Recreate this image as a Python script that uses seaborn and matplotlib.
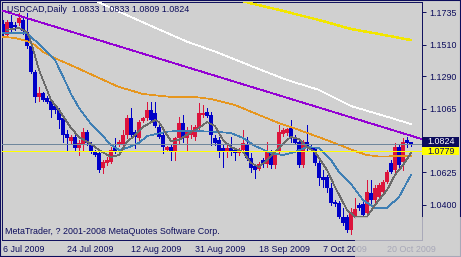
import numpy as np
import pandas as pd
import matplotlib
matplotlib.use("Agg")
import matplotlib.pyplot as plt
import matplotlib.transforms as mtransforms
from matplotlib.patches import Rectangle
import seaborn as sns

# ---------------- data ----------------
symbol_title = "USDCAD,Daily  1.0833 1.0833 1.0809 1.0824"
footer_text = "MetaTrader, ? 2001-2008 MetaQuotes Software Corp."

date_labels = ["6 Jul 2009", "24 Jul 2009", "12 Aug 2009", "31 Aug 2009",
               "18 Sep 2009", "7 Oct 2009", "20 Oct 2009"]
date_label_bars = [0, 16, 32, 48, 64, 80, 96]

price_ticks = [1.1735, 1.1510, 1.1290, 1.1065, 1.0625, 1.0400]

opens = [1.1653, 1.1577, 1.1667, 1.1647, 1.1660, 1.1681, 1.1598, 1.1501, 1.1320, 1.1147,
         1.1175, 1.1140, 1.1119, 1.1084, 1.1057, 1.1001, 1.0890, 1.0842, 1.0869, 1.0793,
         1.0814, 1.0904, 1.0814, 1.0765, 1.0758, 1.0654, 1.0689, 1.0696, 1.0793, 1.0814,
         1.0814, 1.0883, 1.1001, 1.0904, 1.0862, 1.0980, 1.1001, 1.1057, 1.1036, 1.0939,
         1.0883, 1.0779, 1.0800, 1.0772, 1.0862, 1.0966, 1.0862, 1.0883, 1.0869, 1.0932,
         1.1022, 1.1043, 1.1022, 1.0862, 1.0848, 1.0793, 1.0765, 1.0793, 1.0779, 1.0758,
         1.0779, 1.0814, 1.0724, 1.0668, 1.0647, 1.0710, 1.0682, 1.0765, 1.0675, 1.0765,
         1.0890, 1.0897, 1.0932, 1.0862, 1.0835, 1.0675, 1.0835, 1.0800, 1.0793, 1.0689,
         1.0592, 1.0592, 1.0515, 1.0418, 1.0411, 1.0314, 1.0314, 1.0224, 1.0321, 1.0397,
         1.0404, 1.0342, 1.0481, 1.0432, 1.0453, 1.0488, 1.0557, 1.0689, 1.0640, 1.0800,
         1.0696, 1.0848, 1.0833]
highs = [1.1681, 1.1681, 1.1716, 1.1667, 1.1730, 1.1695, 1.1730, 1.1515, 1.1334, 1.1216,
         1.1182, 1.1154, 1.1126, 1.1098, 1.1071, 1.1015, 1.0918, 1.0883, 1.0883, 1.0848,
         1.0932, 1.0918, 1.0835, 1.0779, 1.0779, 1.0710, 1.0730, 1.0800, 1.0862, 1.0848,
         1.0918, 1.1022, 1.1071, 1.0918, 1.0987, 1.1008, 1.1112, 1.1112, 1.1112, 1.0973,
         1.0918, 1.0807, 1.0821, 1.0869, 1.1008, 1.1022, 1.0939, 1.0953, 1.0953, 1.1105,
         1.1091, 1.1071, 1.1043, 1.0883, 1.0869, 1.0814, 1.0828, 1.0869, 1.0793, 1.0793,
         1.0918, 1.0869, 1.0758, 1.0675, 1.0696, 1.0724, 1.0835, 1.0779, 1.0779, 1.0953,
         1.0932, 1.0932, 1.0987, 1.0883, 1.0848, 1.0848, 1.0953, 1.0814, 1.0800, 1.0710,
         1.0640, 1.0606, 1.0550, 1.0432, 1.0425, 1.0377, 1.0328, 1.0377, 1.0446, 1.0411,
         1.0418, 1.0571, 1.0571, 1.0536, 1.0550, 1.0571, 1.0640, 1.0710, 1.0828, 1.0814,
         1.0862, 1.0869, 1.0833]
lows = [1.1570, 1.1563, 1.1598, 1.1612, 1.1647, 1.1584, 1.1487, 1.1313, 1.1112, 1.1119,
        1.1119, 1.1105, 1.1008, 1.1036, 1.0932, 1.0835, 1.0779, 1.0828, 1.0779, 1.0744,
        1.0779, 1.0814, 1.0758, 1.0737, 1.0626, 1.0619, 1.0675, 1.0689, 1.0758, 1.0807,
        1.0800, 1.0862, 1.0869, 1.0793, 1.0848, 1.0973, 1.0987, 1.0973, 1.0939, 1.0862,
        1.0758, 1.0772, 1.0710, 1.0710, 1.0828, 1.0835, 1.0779, 1.0862, 1.0848, 1.0918,
        1.1008, 1.1008, 1.0814, 1.0814, 1.0730, 1.0661, 1.0730, 1.0744, 1.0710, 1.0744,
        1.0765, 1.0710, 1.0626, 1.0585, 1.0640, 1.0661, 1.0661, 1.0654, 1.0654, 1.0758,
        1.0876, 1.0883, 1.0835, 1.0821, 1.0661, 1.0661, 1.0779, 1.0779, 1.0675, 1.0536,
        1.0522, 1.0488, 1.0397, 1.0390, 1.0307, 1.0259, 1.0210, 1.0196, 1.0307, 1.0363,
        1.0314, 1.0328, 1.0411, 1.0418, 1.0439, 1.0481, 1.0550, 1.0619, 1.0626, 1.0661,
        1.0640, 1.0800, 1.0809]
closes = [1.1591, 1.1667, 1.1626, 1.1633, 1.1695, 1.1605, 1.1501, 1.1320, 1.1147, 1.1175,
          1.1126, 1.1112, 1.1057, 1.1057, 1.0987, 1.0883, 1.0862, 1.0869, 1.0793, 1.0828,
          1.0904, 1.0828, 1.0765, 1.0744, 1.0640, 1.0696, 1.0710, 1.0779, 1.0765, 1.0835,
          1.0883, 1.1001, 1.0883, 1.0869, 1.0973, 1.1001, 1.1057, 1.0987, 1.0946, 1.0869,
          1.0800, 1.0800, 1.0772, 1.0862, 1.0966, 1.0862, 1.0904, 1.0918, 1.0939, 1.1036,
          1.1036, 1.1015, 1.0883, 1.0828, 1.0765, 1.0765, 1.0793, 1.0765, 1.0758, 1.0779,
          1.0828, 1.0724, 1.0654, 1.0640, 1.0682, 1.0682, 1.0765, 1.0675, 1.0744, 1.0904,
          1.0918, 1.0925, 1.0862, 1.0828, 1.0675, 1.0835, 1.0793, 1.0786, 1.0689, 1.0585,
          1.0571, 1.0515, 1.0411, 1.0404, 1.0314, 1.0272, 1.0224, 1.0349, 1.0370, 1.0377,
          1.0328, 1.0488, 1.0432, 1.0515, 1.0536, 1.0557, 1.0626, 1.0626, 1.0800, 1.0675,
          1.0835, 1.0828, 1.0824]

# indicator lines (bar index, price)
white_bars = [20, 29, 37, 46, 54, 62, 71, 79, 87, 96, 102]
white_vals = [1.1855, 1.1739, 1.1640, 1.1531, 1.1452, 1.1362, 1.1265, 1.1196, 1.1084, 1.1010, 1.0959]

yellow_bars = [57, 62, 69, 79, 87, 94, 102]
yellow_vals = [1.1834, 1.1797, 1.1751, 1.1681, 1.1619, 1.1584, 1.1542]

orange_bars = [0, 3, 6, 8, 10, 14, 18, 24, 29, 35, 42, 48, 52, 58, 64, 69, 74, 82, 88, 91, 94, 102]
orange_vals = [1.1565, 1.1556, 1.1535, 1.1508, 1.1459, 1.1404, 1.1355, 1.1279, 1.1216, 1.1168,
               1.1147, 1.1147, 1.1133, 1.1091, 1.1022, 1.0966, 1.0918, 1.0837, 1.0772, 1.0744,
               1.0734, 1.0737]

steel_bars = [0, 4, 6, 7, 9, 11, 13, 16, 17, 19, 22, 24, 27, 29, 31, 34, 36, 41, 45, 53, 57,
              60, 63, 67, 70, 73, 76, 79, 82, 84, 87, 90, 93, 96, 99, 102]
steel_vals = [1.1591, 1.1591, 1.1588, 1.1563, 1.1515, 1.1459, 1.1404, 1.1230, 1.1168, 1.1071,
              1.0959, 1.0904, 1.0814, 1.0779, 1.0793, 1.0828, 1.0876, 1.0906, 1.0913, 1.0906,
              1.0897, 1.0862, 1.0807, 1.0758, 1.0744, 1.0765, 1.0800, 1.0793, 1.0710, 1.0626,
              1.0543, 1.0432, 1.0377, 1.0377, 1.0453, 1.0606]

gray_bars = [1, 4, 6, 7, 9, 12, 14, 17, 19, 22, 24, 27, 29, 31, 33, 35, 38, 39, 41, 42, 44, 47,
             49, 51, 53, 55, 57, 60, 62, 64, 66, 68, 71, 72, 74, 76, 78, 81, 83, 86, 88, 91, 93,
             96, 98, 100, 102]
gray_vals = [1.1612, 1.1626, 1.1598, 1.1529, 1.1334, 1.1126, 1.1057, 1.0932, 1.0869, 1.0821,
             1.0779, 1.0730, 1.0744, 1.0835, 1.0883, 1.0939, 1.0987, 1.0973, 1.0883, 1.0842,
             1.0848, 1.0904, 1.0932, 1.0973, 1.0946, 1.0848, 1.0800, 1.0765, 1.0689, 1.0661,
             1.0710, 1.0765, 1.0848, 1.0869, 1.0855, 1.0800, 1.0765, 1.0640, 1.0522, 1.0363,
             1.0316, 1.0316, 1.0397, 1.0501, 1.0606, 1.0675, 1.0758]

trend_bars = [0, 102]
trend_vals = [1.1745, 1.0878]

bid_price = 1.0824
bid_label = "1.0824"
hline_price = 1.0775
hline_label = "1.0779"

# ---------------- style ----------------
sns.set_style("white")
plt.rcParams['font.family'] = ['Liberation Sans', 'DejaVu Sans']

BG = '#d0d0d0'
NAVY = '#0c0c5c'
RED = '#dc143c'
BLUE = '#0000c8'
FS = 6.4
THIN = 0.5

W, H = 461, 257
fig = plt.figure(figsize=(W / 100, H / 100), dpi=100, facecolor=BG)
ax = fig.add_axes([2 / W, 1 - 239.5 / H, 420 / W, 237.5 / H])
ax.set_facecolor(BG)

ymin, ymax = 1.01579, 1.18061
ax.set_xlim(-0.25, 104.75)
ax.set_ylim(ymin, ymax)
ppx = (ymax - ymin) / 237.5

o = np.array(opens); h = np.array(highs); l = np.array(lows); c = np.array(closes)
xb = np.arange(len(c))
cols = np.where(c >= o, RED, BLUE)

# candles
ax.vlines(xb, l, h, colors=cols, linewidth=0.7, antialiased=False, zorder=3)
ax.bar(xb, np.maximum(np.abs(c - o), ppx), bottom=np.minimum(o, c), width=0.78,
       color=cols, linewidth=0, antialiased=False, zorder=4)

# indicator lines
def line(bars, vals, color, lw, z=5):
    sns.lineplot(x=bars, y=vals, ax=ax, color=color, linewidth=lw,
                 antialiased=False, zorder=z, sort=False, estimator=None)

line(white_bars, white_vals, '#ffffff', THIN)
line(yellow_bars, yellow_vals, '#f2e600', 1.0)
line(orange_bars, orange_vals, '#e6961e', THIN)
line(steel_bars, steel_vals, '#3f7fb4', THIN)
line(gray_bars, gray_vals, '#6a6a6a', THIN)
ax.axline((trend_bars[0], trend_vals[0]), (trend_bars[1], trend_vals[1]),
          color='#9400d3', linewidth=0.6, antialiased=False, zorder=5)

ax.axhline(bid_price, color='#6f879c', linewidth=THIN, antialiased=False, zorder=6)
ax.axhline(hline_price, color='#ffff00', linewidth=THIN, antialiased=False, zorder=6)

# axes styling
for s in ax.spines.values():
    s.set_color(NAVY)
    s.set_linewidth(0.7)
ax.yaxis.tick_right()
ax.set_yticks(price_ticks)
ax.set_yticklabels([f"{v:.4f}" for v in price_ticks])
ax.set_xticks(date_label_bars)
ax.set_xticklabels(date_labels, ha='left')
ax.tick_params(axis='both', colors=NAVY, labelcolor=NAVY, labelsize=FS,
               length=3, width=0.7, direction='out')
ax.tick_params(axis='y', pad=2)
ax.tick_params(axis='x', pad=1)
ax.set_xlabel(""); ax.set_ylabel("")
ax.grid(False)

# price labels on the right
blend = mtransforms.blended_transform_factory(ax.transAxes, ax.transData)
bw = 37 / 420
ax.add_patch(Rectangle((1.0, bid_price - 3.1 * ppx), bw, 9.4 * ppx, transform=blend,
                       fc=NAVY, ec='none', clip_on=False, zorder=10))
ax.text(1.0 + 5 / 420, bid_price + 1.6 * ppx, bid_label, transform=blend, color='white',
        va='center', ha='left', fontsize=FS, clip_on=False, zorder=11)
ax.add_patch(Rectangle((1.0, hline_price - 4.7 * ppx), bw, 8.0 * ppx, transform=blend,
                       fc='#ffff00', ec='none', clip_on=False, zorder=10))
ax.text(1.0 + 5 / 420, hline_price - 0.7 * ppx, hline_label, transform=blend, color=NAVY,
        va='center', ha='left', fontsize=FS, clip_on=False, zorder=11)

# texts
fig.text(7 / W, 1 - 10 / H, symbol_title, color=NAVY, fontsize=FS, va='center', ha='left')
fig.text(5 / W, 1 - 231 / H, footer_text, color=NAVY, fontsize=FS, va='center', ha='left')

# outer border and faded bottom-right corner
fig.add_artist(Rectangle((0, 0), 1, 1, transform=fig.transFigure, fill=False,
                         ec=NAVY, lw=1.5, zorder=15))
fig.add_artist(Rectangle((355 / W, 0), (W - 355) / W, 40 / H, transform=fig.transFigure,
                         fc=BG, ec='none', alpha=0.8, zorder=20))

fig.savefig("out.png", dpi=100, facecolor=BG)
